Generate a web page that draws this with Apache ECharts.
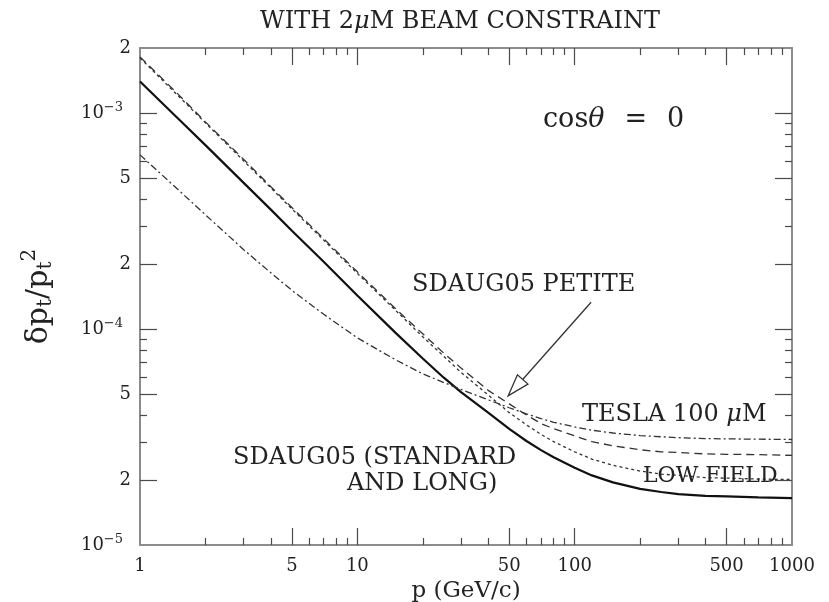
<!DOCTYPE html>
<html><head><meta charset="utf-8">
<script src="https://cdn.jsdelivr.net/npm/echarts@6/dist/echarts.min.js"></script>
<style>html,body{margin:0;padding:0;background:#fff}#c{width:829px;height:602px}</style>
</head><body><div id="c"></div>
<script>
// ---- data ----
const momentum = [1,1.5,2,3,4,5,7,10,15,20,25,30,40,50,60,70,80,100,120,150,200,250,300,400,500,700,1000];
const standardLong = [1.40e-3,9.4e-4,7.1e-4,4.75e-4,3.57e-4,2.85e-4,2.05e-4,1.43e-4,9.6e-5,7.3e-5,5.95e-5,5.1e-5,4.1e-5,3.45e-5,3.03e-5,2.75e-5,2.55e-5,2.28e-5,2.1e-5,1.95e-5,1.82e-5,1.76e-5,1.72e-5,1.69e-5,1.68e-5,1.66e-5,1.65e-5];
const tesla100 = [6.4e-4,4.41e-4,3.38e-4,2.33e-4,1.82e-4,1.51e-4,1.17e-4,9.1e-5,7.2e-5,6.2e-5,5.65e-5,5.25e-5,4.7e-5,4.32e-5,4.05e-5,3.85e-5,3.7e-5,3.52e-5,3.4e-5,3.3e-5,3.21e-5,3.17e-5,3.14e-5,3.11e-5,3.1e-5,3.09e-5,3.08e-5];
const petite = [1.82e-3,1.22e-3,9.1e-4,6.1e-4,4.56e-4,3.65e-4,2.62e-4,1.84e-4,1.24e-4,9.5e-5,7.73e-5,6.6e-5,5.2e-5,4.5e-5,4.0e-5,3.65e-5,3.46e-5,3.2e-5,3.01e-5,2.88e-5,2.76e-5,2.7e-5,2.68e-5,2.64e-5,2.63e-5,2.62e-5,2.6e-5];
const lowField = [1.80e-3,1.20e-3,9.0e-4,6.0e-4,4.5e-4,3.6e-4,2.58e-4,1.81e-4,1.22e-4,9.2e-5,7.47e-5,6.3e-5,4.95e-5,4.1e-5,3.6e-5,3.25e-5,3.01e-5,2.7e-5,2.5e-5,2.34e-5,2.2e-5,2.13e-5,2.1e-5,2.05e-5,2.04e-5,2.02e-5,2.01e-5];

const xLabels = [1,5,10,50,100,500,1000];
const xMajorTicks = [5,10,50,100,500];
const xMinorTicks = [2,3,4,6,7,8,9,20,30,40,60,70,80,90,200,300,400,600,700,800,900];
const yLabels = [1e-5,2e-5,5e-5,1e-4,2e-4,5e-4,1e-3,2e-3];
const yMajorTicks = [2e-5,5e-5,1e-4,2e-4,5e-4,1e-3];
const yMinorTicks = [3e-5,4e-5,6e-5,7e-5,8e-5,9e-5,3e-4,4e-4,6e-4,7e-4,8e-4,9e-4];

// ---- styling ----
const SERIF = '"DejaVu Serif", "Liberation Serif", serif';
const FRAME = '#8c8c8c';
const TICK = '#4a4a4a';
const INK = '#222';

function pair(arrX, arrY){ return arrX.map((x,i)=>[x, arrY[i]]); }

function yFmt(v){
  const l = Math.log10(v);
  const e = Math.round(l);
  if (Math.abs(l - e) < 1e-6) return '{b|10}{s|\u2212' + (-e) + '}';
  const d = Math.round(v / Math.pow(10, Math.floor(l + 1e-9)));
  return '{b|' + d + '}';
}

function xAxisDef(pos, major, showLabel){
  return {
    type: 'log', logBase: 10, min: 1, max: 1000, position: pos,
    axisLine: { show: major, lineStyle: { color: FRAME, width: 2 } },
    axisTick: { show: true, inside: true, length: major ? 17 : 7,
                customValues: major ? xMajorTicks : xMinorTicks,
                lineStyle: { color: TICK, width: 1.2 } },
    axisLabel: showLabel ? { show: true, customValues: xLabels, margin: 12,
                fontFamily: SERIF, fontSize: 18, color: INK,
                formatter: v => String(Math.round(v)) } : { show: false },
    splitLine: { show: false }, minorTick: { show: false },
    name: showLabel ? 'p (GeV/c)' : '', nameLocation: 'middle', nameGap: 35,
    nameTextStyle: { fontFamily: SERIF, fontSize: 23, color: INK }
  };
}
function yAxisDef(pos, major, showLabel){
  return {
    type: 'log', logBase: 10, min: 1e-5, max: 2e-3, position: pos,
    axisLine: { show: major, lineStyle: { color: FRAME, width: 2 } },
    axisTick: { show: true, inside: true, length: major ? 17 : 7,
                customValues: major ? yMajorTicks : yMinorTicks,
                lineStyle: { color: TICK, width: 1.2 } },
    axisLabel: showLabel ? { show: true, customValues: yLabels, margin: 9,
                formatter: yFmt,
                rich: { b: { fontFamily: SERIF, fontSize: 18, color: INK },
                        s: { fontFamily: SERIF, fontSize: 13, color: INK, padding: [0,8,10,0] } } } : { show: false },
    splitLine: { show: false }, minorTick: { show: false },
    name: showLabel ? '{m|\u03b4p}{t|t}{m|/p}{t|t}{q|2}' : '', nameLocation: 'middle', nameGap: 82, nameRotate: 90,
    nameTextStyle: { rich: {
      m: { fontFamily: SERIF, fontSize: 30, color: INK },
      t: { fontFamily: SERIF, fontSize: 20, color: INK, padding: [14,0,0,0] },
      q: { fontFamily: SERIF, fontSize: 20, color: INK, padding: [0,0,18,0] } } }
  };
}

const chart = echarts.init(document.getElementById('c'), null, { renderer: 'canvas' });
const lineBase = { type: 'line', showSymbol: false, symbol: 'none', smooth: false, xAxisIndex: 0, yAxisIndex: 0, animation: false, z: 5 };
const option = {
  animation: false,
  backgroundColor: '#fff',
  grid: { left: 140, right: 37, top: 48, bottom: 57, containLabel: false, outerBoundsMode: 'none' },
  xAxis: [ xAxisDef('bottom', true, true), xAxisDef('bottom', false, false),
           xAxisDef('top', true, false), xAxisDef('top', false, false) ],
  yAxis: [ yAxisDef('left', true, true), yAxisDef('left', false, false),
           yAxisDef('right', true, false), yAxisDef('right', false, false) ],
  series: [
    Object.assign({}, lineBase, { name: 'SDAUG05 (STANDARD AND LONG)', data: pair(momentum, standardLong),
      lineStyle: { color: '#111', width: 2.2, type: 'solid' } }),
    Object.assign({}, lineBase, { name: 'TESLA 100 \u03bcM', data: pair(momentum, tesla100),
      lineStyle: { color: '#333', width: 1.3, type: [7,3,2,3] } }),
    Object.assign({}, lineBase, { name: 'SDAUG05 PETITE', data: pair(momentum, petite),
      lineStyle: { color: '#333', width: 1.3, type: [8,5] } }),
    Object.assign({}, lineBase, { name: 'LOW FIELD', data: pair(momentum, lowField),
      lineStyle: { color: '#333', width: 1.3, type: [3,3] } })
  ]
};
chart.setOption(option);

// ---- annotations ----
const P = (p, v) => chart.convertToPixel({ xAxisIndex: 0, yAxisIndex: 0 }, [p, v]);
const arrowFrom = P(119, 1.33e-4);
const arrowTo = P(49.4, 4.9e-5);
const dx = arrowTo[0]-arrowFrom[0], dy = arrowTo[1]-arrowFrom[1];
const L = Math.hypot(dx, dy), ux = dx/L, uy = dy/L;
const hl = 22, hw = 7;
const base = [arrowTo[0]-ux*hl, arrowTo[1]-uy*hl];
const head = [arrowTo, [base[0]-uy*hw, base[1]+ux*hw], [base[0]+uy*hw, base[1]-ux*hw]];

function txt(x, y, text, size, align, rich){
  return { type: 'text', x: x, y: y, z: 10,
    style: { text: text, fontFamily: SERIF, fontSize: size, fill: INK, align: align || 'left', verticalAlign: 'middle', rich: rich } };
}
function mixed(size, gap){
  return { a: { fontFamily: SERIF, fontSize: size, fill: INK },
           m: { fontFamily: SERIF, fontSize: size, fontStyle: 'italic', fill: INK },
           g: { fontFamily: SERIF, fontSize: size, fill: INK, width: gap || 14 } };
}
chart.setOption({ graphic: [
  txt(460, 22, '{a|WITH 2}{m|\u03bc}{a|M BEAM CONSTRAINT}', 24, 'center', mixed(24)),
  txt(543, 120, '{a|cos}{m|\u03b8}{g| }{a|=}{g| }{a|0}', 27, 'left', mixed(27, 20)),
  txt(412, 285, 'SDAUG05 PETITE', 24),
  txt(582, 415, '{a|TESLA 100 }{m|\u03bc}{a|M}', 24, 'left', mixed(24)),
  txt(643, 476, 'LOW FIELD', 22),
  txt(233, 458, 'SDAUG05 (STANDARD', 24),
  txt(347, 484, 'AND LONG)', 24),
  { type: 'line', z: 10, shape: { x1: arrowFrom[0], y1: arrowFrom[1], x2: base[0], y2: base[1] },
    style: { stroke: '#333', lineWidth: 1.3 } },
  { type: 'polygon', z: 10, shape: { points: head }, style: { fill: '#fff', stroke: '#333', lineWidth: 1.3 } }
]});
</script></body></html>
